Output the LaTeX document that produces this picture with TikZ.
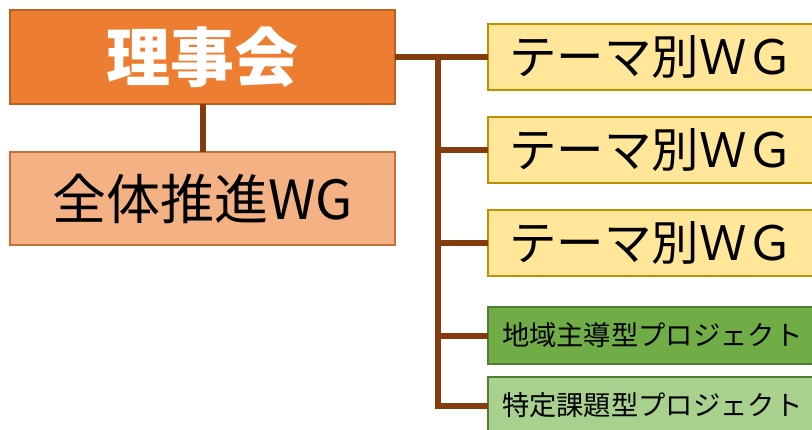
\documentclass[tikz,border=0pt]{standalone}
\usepackage{fontspec}
\newfontfamily\jp{Noto Sans CJK JP}
\definecolor{conn}{HTML}{843C0C}
\definecolor{orfill}{HTML}{ED7D31}
\definecolor{ordraw}{HTML}{B8621F}
\definecolor{lofill}{HTML}{F4B183}
\definecolor{lodraw}{HTML}{C5713A}
\definecolor{yefill}{HTML}{FFE699}
\definecolor{yedraw}{HTML}{BF9000}
\definecolor{g1fill}{HTML}{70AD47}
\definecolor{g2fill}{HTML}{A9D18E}
\definecolor{gdraw}{HTML}{507E32}
\tikzset{
  boxbase/.style={draw, line width=2pt, inner sep=0pt, outer sep=0pt, anchor=north west},
  leftbox/.style={boxbase, minimum width=385pt, minimum height=94pt},
  themebox/.style={boxbase, fill=yefill, draw=yedraw, minimum height=66pt, text width=340pt, inner xsep=21pt, align=left, font=\jp\fontsize{47.5}{47.5}\selectfont},
  projbox/.style={boxbase, draw=gdraw, minimum height=57pt, text width=340pt, inner xsep=14pt, align=left, font=\jp\fontsize{27.3}{27.3}\selectfont},
  link/.style={draw=conn, line width=6pt}
}
\begin{document}
\begin{tikzpicture}[x=1pt,y=-1pt]
\useasboundingbox (0,0) rectangle (812,429);
\clip (0,0) rectangle (812,429);
\node[leftbox, fill=orfill, draw=ordraw, text=white, font=\jp\bfseries\fontsize{64}{64}\selectfont] (ri) at (10,10) {理事会};
\node[leftbox, fill=lofill, draw=lodraw, minimum height=93pt, font=\jp\fontsize{54}{54}\selectfont] (zw) at (10,152) {全体推進WG};
\node[themebox] (t1) at (488,24) {テーマ別ＷＧ};
\node[themebox] (t2) at (488,117) {テーマ別ＷＧ};
\node[themebox] (t3) at (488,210) {テーマ別ＷＧ};
\node[projbox, fill=g1fill] (p1) at (488,307) {地域主導型プロジェクト};
\node[projbox, fill=g2fill] (p2) at (488,377) {特定課題型プロジェクト};
\coordinate (bus) at (438,57);
\draw[link] (ri.south) -- (zw.north);
\draw[link] (ri.east |- t1.west) -- (t1.west);
\draw[link] (bus) |- (p2.west);
\draw[link] (bus |- t2.west) -- (t2.west);
\draw[link] (bus |- t3.west) -- (t3.west);
\draw[link] (bus |- p1.west) -- (p1.west);
\end{tikzpicture}
\end{document}
